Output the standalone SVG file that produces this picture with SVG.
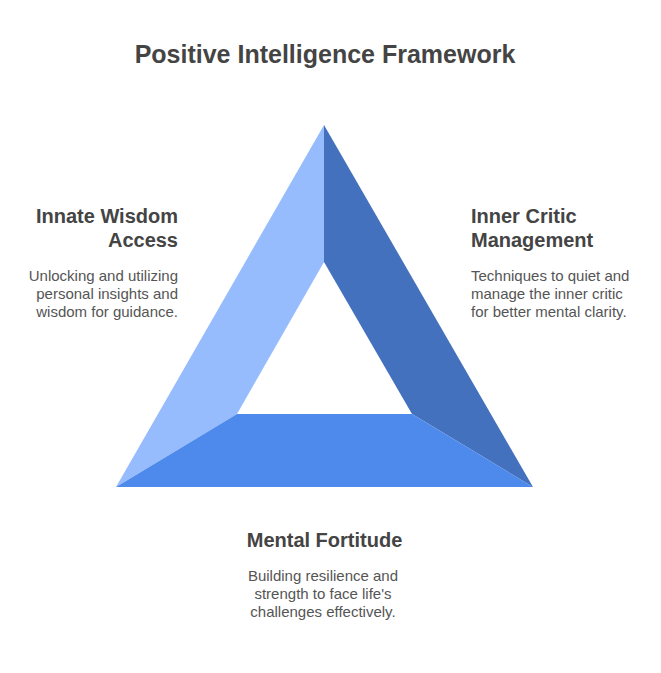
<svg xmlns="http://www.w3.org/2000/svg" width="661" height="673" viewBox="0 0 661 673">
<style>
text{font-family:"Liberation Sans",Arial,sans-serif}
.t{font-size:25px;font-weight:bold;fill:#444}
.h{font-size:20px;font-weight:bold;fill:#444}
.b{font-size:15px;fill:#555}
.r{text-anchor:end}
.c{text-anchor:middle}
</style>
<rect width="661" height="673" fill="#fff"/>
<text class="t c" x="325" y="63">Positive Intelligence Framework</text>
<g id="connectors"></g>
<g id="innate-wisdom">
<polygon points="324,125 324,262 237,414 116,487" fill="#96BCFD"/>
<text class="h r" x="178" y="223">Innate Wisdom</text>
<text class="h r" x="178" y="247">Access</text>
<text class="b r" x="178" y="281">Unlocking and utilizing</text>
<text class="b r" x="178" y="299">personal insights and</text>
<text class="b r" x="178" y="317">wisdom for guidance.</text>
</g>
<g id="inner-critic">
<polygon points="324,125 533,487 412,414 324,262" fill="#4371BE"/>
<text class="h" x="471" y="223">Inner Critic</text>
<text class="h" x="471" y="247">Management</text>
<text class="b" x="471" y="281">Techniques to quiet and</text>
<text class="b" x="471" y="299">manage the inner critic</text>
<text class="b" x="471" y="317">for better mental clarity.</text>
</g>
<g id="mental-fortitude">
<polygon points="116,487 237,414 412,414 533,487" fill="#4D8AEB"/>
<text class="h c" x="324.5" y="547">Mental Fortitude</text>
<text class="b c" x="323" y="581">Building resilience and</text>
<text class="b c" x="323" y="599">strength to face life's</text>
<text class="b c" x="323" y="617">challenges effectively.</text>
</g>
</svg>
